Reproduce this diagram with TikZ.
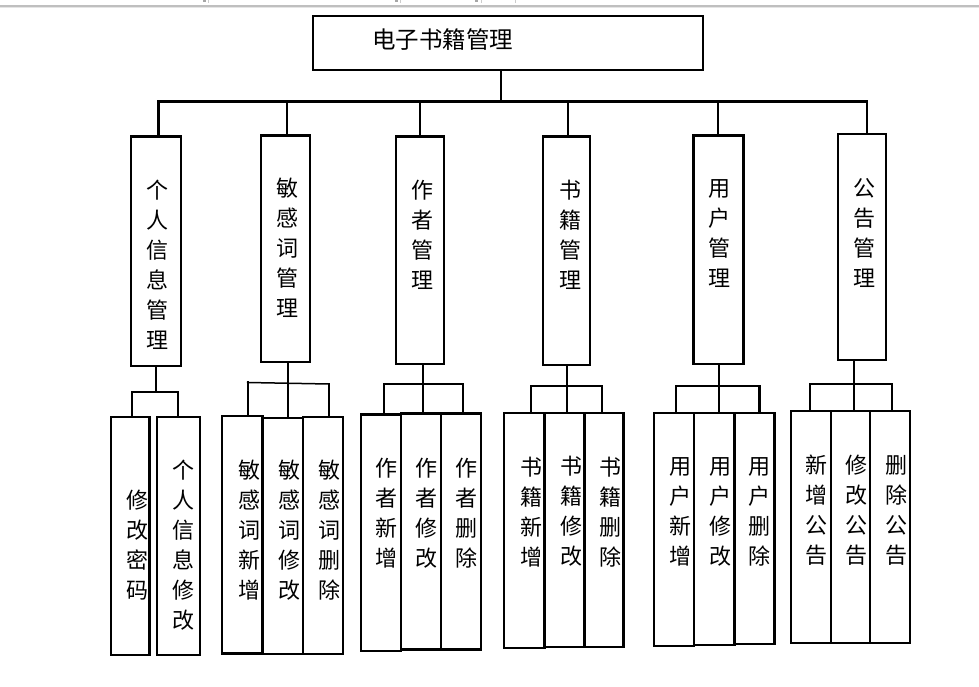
\documentclass[tikz,border=0pt]{standalone}
\usepackage{fontspec}
\setmainfont{Noto Sans CJK SC}
\newcommand\mybox[5]{\node[box, minimum width={#4-#2}, minimum height={#5-#3}] (#1) at ({(#2+#4)/2},{(#3+#5)/2}) {};}
\begin{document}
\begin{tikzpicture}[x=1pt,y=-1pt,
  box/.style={draw, line width=2.4pt, inner sep=0pt, outer sep=0pt},
  ln/.style={line width=2.4pt, line cap=rect},
  thinln/.style={line width=1.5pt, line cap=rect},
  vt/.style={inner sep=0pt, align=center, font=\fontsize{22}{30}\selectfont},
  ttl/.style={inner sep=0pt, font=\fontsize{23.5}{28}\selectfont},
  rul/.style={draw=none, fill=black!35}]
\useasboundingbox (0,0) rectangle (979,687);
% page edge and ruler marks
\fill[black!25] (0,5.4) rectangle (979,6.6);
\fill[black!10] (0,6.6) rectangle (979,8);
\fill[rul] (202.5,0) rectangle (205.5,2.2);
\fill[black!20] (207.6,0) rectangle (208.3,3);
\fill[rul] (395,0) rectangle (398,2.2);
\fill[black!20] (400.3,0) rectangle (401,3);
\fill[rul] (475,0) rectangle (478,2.2);
\fill[black!20] (480.6,0) rectangle (481.3,3);
\fill[black!20] (514.6,0) rectangle (515.3,3);
% root
\mybox{root}{312.7}{16}{702.7}{70}
\node[ttl] (troot) at (442.5,40) {电子书籍管理};
% level 1
\mybox{p1}{130.7}{136.7}{181}{366}
\mybox{p2}{261}{135.7}{310}{361.7}
\mybox{p3}{395.7}{136.7}{444}{364}
\mybox{p4}{542.7}{136.7}{590}{365}
\mybox{p5}{693.3}{135.7}{743.3}{364}
\mybox{p6}{837.7}{134}{886}{360}
% level 2
\mybox{a1}{111}{416.7}{149.3}{654.7}
\mybox{a2}{156.7}{416.7}{200}{654.7}
\mybox{b1}{221.7}{415.7}{262.3}{653.3}
\mybox{b2}{262.3}{417.7}{303}{654}
\mybox{b3}{303}{416.7}{343}{654}
\mybox{c1}{361}{414.3}{401}{650.7}
\mybox{c2}{401}{413.3}{441}{649.3}
\mybox{c3}{441}{413.3}{481}{649.3}
\mybox{d1}{504}{412.7}{544.3}{647.7}
\mybox{d2}{544.3}{412.7}{584.3}{646.7}
\mybox{d3}{584.3}{412.7}{623.3}{646.7}
\mybox{e1}{654}{412.7}{694}{646}
\mybox{e2}{694}{412.7}{734.3}{645}
\mybox{e3}{734.3}{412.7}{774.3}{644}
\mybox{f1}{791}{411}{831}{642.7}
\mybox{f2}{831}{411}{870}{642.7}
\mybox{f3}{870}{411}{910}{642.7}
% texts level 1
\node[vt] (tp1) at (157.7,265) {个\\人\\信\\息\\管\\理};
\node[vt] (tp2) at (287.2,248) {敏\\感\\词\\管\\理};
\node[vt] (tp3) at (422.7,235) {作\\者\\管\\理};
\node[vt] (tp4) at (570,235) {书\\籍\\管\\理};
\node[vt] (tp5) at (719.3,234) {用\\户\\管\\理};
\node[vt] (tp6) at (864,233) {公\\告\\管\\理};
% texts level 2
\node[vt] (ta1) at (137.7,545) {修\\改\\密\\码};
\node[vt] (ta2) at (183.3,545) {个\\人\\信\\息\\修\\改};
\node[vt] (tb1) at (249.3,530) {敏\\感\\词\\新\\增};
\node[vt] (tb2) at (289,530) {敏\\感\\词\\修\\改};
\node[vt] (tb3) at (329,530) {敏\\感\\词\\删\\除};
\node[vt] (tc1) at (386.7,513) {作\\者\\新\\增};
\node[vt] (tc2) at (426.7,513) {作\\者\\修\\改};
\node[vt] (tc3) at (466.7,513) {作\\者\\删\\除};
\node[vt] (td1) at (531.7,511.7) {书\\籍\\新\\增};
\node[vt] (td2) at (571,511.7) {书\\籍\\修\\改};
\node[vt] (td3) at (610,511.7) {书\\籍\\删\\除};
\node[vt] (te1) at (680,511.7) {用\\户\\新\\增};
\node[vt] (te2) at (720,511.7) {用\\户\\修\\改};
\node[vt] (te3) at (759.3,511.7) {用\\户\\删\\除};
\node[vt] (tf1) at (816.7,510) {新\\增\\公\\告};
\node[vt] (tf2) at (856.7,510) {修\\改\\公\\告};
\node[vt] (tf3) at (896,510) {删\\除\\公\\告};
% top connectors
\coordinate (rj) at (500.7,101.5);
\coordinate (k1) at (158.3,101.5);
\coordinate (k2) at (286.7,101.5);
\coordinate (k3) at (420,101.5);
\coordinate (k4) at (567.7,101.5);
\coordinate (k5) at (717.7,101.5);
\coordinate (k6) at (866.7,101.5);
\draw[ln] (root.south -| rj) -- (rj);
\draw[ln] (k1) -- (k6);
\foreach \k/\p in {k1/p1,k2/p2,k3/p3,k4/p4,k5/p5,k6/p6}
  \draw[ln] (\k) -- (\k |- \p.north);
% group 1
\coordinate (m1) at (155.7,392);
\coordinate (l1) at (131.7,392);
\coordinate (r1) at (177.7,392);
\draw[ln] (p1.south -| m1) -- (m1);
\draw[ln] (l1 |- a1.north) -- (l1) -- (r1) -- (r1 |- a2.north);
% group 2
\coordinate (m2) at (287.7,383.3);
\coordinate (l2) at (247.7,382.5);
\coordinate (r2) at (328.7,384);
\draw[ln] (p2.south -| m2) -- (m2 |- b2.north);
\draw[thinln] (l2) -- (r2);
\draw[ln] (l2) -- (l2 |- b1.north);
\draw[ln] (r2) -- (r2 |- b3.north);
% group 3
\coordinate (m3) at (422.7,384);
\coordinate (l3) at (384,384);
\coordinate (r3) at (462.7,384);
\draw[ln] (p3.south -| m3) -- (m3 |- c2.north);
\draw[ln] (l3 |- c1.north) -- (l3) -- (r3) -- (r3 |- c3.north);
% group 4
\coordinate (m4) at (566.7,386);
\coordinate (l4) at (531,386);
\coordinate (r4) at (601.7,386);
\coordinate (e4) at (566.7,410.7);
\draw[ln] (p4.south -| m4) -- (e4);
\draw[ln] (l4 |- d1.north) -- (l4) -- (r4) -- (r4 |- d3.north);
% group 5
\coordinate (m5) at (719,386);
\coordinate (l5) at (676,386);
\coordinate (r5) at (759.3,386);
\draw[ln] (p5.south -| m5) -- (m5 |- e2.north);
\draw[ln] (l5 |- e1.north) -- (l5) -- (r5) -- (r5 |- e3.north);
% group 6
\coordinate (m6) at (854,384);
\coordinate (l6) at (810,384);
\coordinate (r6) at (891.7,384);
\coordinate (lb6) at (810,408.3);
\coordinate (rb6) at (891.7,408.3);
\draw[ln] (p6.south -| m6) -- (m6 |- f2.north);
\draw[ln] (lb6) -- (l6) -- (r6) -- (rb6);
\end{tikzpicture}
\end{document}
